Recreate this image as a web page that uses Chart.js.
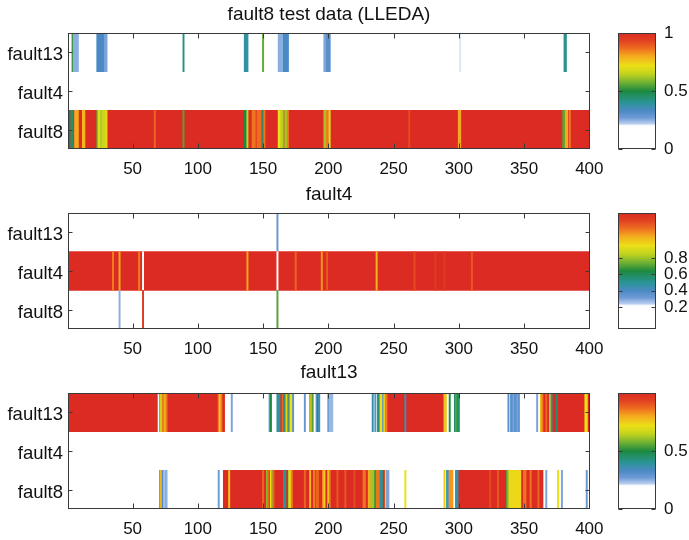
<!DOCTYPE html>
<html>
<head>
<meta charset="utf-8">
<title>fault8 test data (LLEDA)</title>
<script src="https://cdn.jsdelivr.net/npm/chart.js@4.4.0/dist/chart.umd.min.js"></script>
<style>
  body { margin: 0; background: #fff; overflow: hidden; }
  #page { position: relative; width: 689px; height: 540px; }
  canvas { position: absolute; }
</style>
</head>
<body>
<div id="page">
  <canvas id="heat1" width="620" height="180" style="left:0;top:0"></canvas>
  <canvas id="bar1" width="89" height="180" style="left:600px;top:0"></canvas>
  <canvas id="heat2" width="620" height="180" style="left:0;top:180px"></canvas>
  <canvas id="bar2" width="89" height="180" style="left:600px;top:180px"></canvas>
  <canvas id="heat3" width="620" height="180" style="left:0;top:360px"></canvas>
  <canvas id="bar3" width="89" height="180" style="left:600px;top:360px"></canvas>
</div>
<script>
// rows of every panel, top to bottom
const rowLabels = ["fault13", "fault4", "fault8"];
const xTickValues = [50, 100, 150, 200, 250, 300, 350, 400];

// each row: [firstSample, lastSample, level], later entries are painted over earlier ones
const p1Fault13 = [[4, 4, 0.52], [5, 8, 0.25], [23, 28, 0.33], [29, 30, 0.26], [89, 89, 0.42],
  [136, 138, 0.38], [150, 150, 0.56], [162, 165, 0.25], [166, 169, 0.33], [197, 198, 0.26],
  [199, 201, 0.31], [301, 301, 0.21], [381, 382, 0.41]];
const p1Fault4 = [];
const p1Fault8 = [[1, 400, 1], [3, 4, 0.45], [6, 8, 0.8], [12, 13, 0.78], [23, 23, 0.56], [24, 25, 0.7],
  [26, 26, 0.62], [27, 29, 0.66], [30, 30, 0.74], [67, 67, 0.88], [89, 89, 0.55], [136, 137, 0.5],
  [138, 138, 0.66], [142, 144, 0.86], [145, 145, 0.93], [146, 148, 0.87], [150, 150, 0.45],
  [151, 151, 0.86], [162, 163, 0.72], [164, 165, 0.64], [167, 168, 0.62], [169, 169, 0.85],
  [197, 198, 0.62], [199, 200, 0.85], [201, 201, 0.7], [262, 262, 0.92], [300, 301, 0.8],
  [380, 381, 0.55], [382, 383, 0.8], [385, 385, 0.85]];

const p2Fault13 = [[161, 161, 0.28]];
const p2Fault4 = [[1, 400, 1], [35, 35, 0.85], [40, 40, 0.8], [55, 55, 0.85], [58, 58, 0.1],
  [138, 138, 0.8], [161, 161, 0.1], [175, 175, 0.88], [195, 195, 0.82], [199, 199, 0.9],
  [237, 237, 0.78], [266, 266, 0.92], [282, 282, 0.95], [289, 289, 0.95], [310, 310, 0.9]];
const p2Fault8 = [[40, 40, 0.25], [58, 58, 0.95], [161, 161, 0.55]];

const p3Fault13 = [[1, 120, 1], [70, 70, 0.1], [71, 71, 0.6], [72, 72, 0.72], [73, 74, 0.85],
  [75, 75, 0.76], [76, 76, 0.86], [116, 116, 0.85], [117, 117, 0.72], [118, 118, 0.85],
  [126, 126, 0.26], [155, 155, 0.3], [156, 156, 0.5], [161, 161, 0.4], [162, 163, 0.38],
  [164, 164, 1], [165, 165, 0.88], [166, 166, 0.52], [167, 167, 0.4], [168, 168, 0.72],
  [169, 169, 0.85], [170, 170, 0.42], [171, 172, 0.72], [173, 173, 0.3], [182, 182, 0.28],
  [186, 186, 0.6], [187, 187, 0.78], [188, 188, 0.55], [191, 191, 0.3], [192, 192, 0.45],
  [193, 193, 0.35], [200, 200, 0.3], [201, 203, 0.24], [234, 234, 0.38], [236, 236, 0.3],
  [238, 238, 0.4], [239, 239, 0.45], [240, 241, 0.72], [242, 242, 0.3], [243, 243, 0.72],
  [244, 245, 0.85], [246, 288, 1], [259, 259, 0.36], [289, 290, 0.76], [293, 293, 0.5],
  [297, 297, 0.45], [298, 298, 0.56], [299, 300, 0.45], [338, 338, 0.3], [340, 341, 0.3],
  [342, 342, 0.26], [343, 344, 0.3], [345, 345, 0.26], [346, 346, 0.3], [360, 360, 0.26],
  [363, 400, 1], [363, 363, 0.75], [364, 364, 0.85], [367, 367, 0.88], [370, 370, 0.72],
  [371, 371, 0.4], [375, 375, 0.45], [397, 398, 0.72]];
const p3Fault4 = [];
const p3Fault8 = [[71, 71, 0.85], [72, 72, 0.74], [73, 73, 0.32], [75, 76, 0.25], [116, 116, 0.27],
  [120, 244, 1], [124, 124, 0.75], [150, 150, 0.88], [153, 153, 0.6], [154, 154, 0.88],
  [156, 156, 0.72], [157, 157, 0.6], [158, 158, 0.88], [166, 166, 0.38], [167, 167, 0.4],
  [169, 169, 0.5], [170, 171, 0.73], [172, 172, 0.85], [182, 182, 0.88], [186, 186, 0.78],
  [189, 189, 0.85], [191, 192, 0.88], [196, 196, 0.82], [197, 197, 0.75], [200, 200, 0.72],
  [201, 201, 0.85], [207, 207, 0.9], [213, 213, 0.9], [220, 220, 0.92], [227, 228, 0.86],
  [231, 232, 0.8], [233, 235, 0.62], [236, 236, 0.5], [237, 239, 0.86], [240, 241, 0.4],
  [244, 244, 0.72], [245, 246, 0.26], [259, 259, 0.72], [289, 289, 0.75], [291, 291, 0.4],
  [292, 292, 0.3], [293, 295, 0.82], [298, 364, 1], [298, 299, 0.38], [324, 324, 0.92],
  [330, 330, 0.9], [337, 337, 0.55], [338, 338, 0.62], [339, 347, 0.73], [350, 351, 0.86],
  [355, 355, 0.86], [361, 361, 0.88], [367, 367, 0.26], [376, 376, 0.72], [379, 379, 0.26],
  [398, 398, 0.28]];

// colour bar tick labels and axis ranges
const cbTicks1 = [0, 0.5, 1];
const cbTicks2 = [0.2, 0.4, 0.6, 0.8];
const cbTicks3 = [0, 0.5];
const cbRange1 = [0, 1];
const cbRange2 = [-0.07, 1.35];
const cbRange3 = [0, 1];

// jet-like colormap with the low end cut to white
const cmapLevels = [0, 0.2, 0.22, 0.27, 0.33, 0.4, 0.5, 0.58, 0.65, 0.72, 0.8, 0.87, 0.94, 1];
const cmapColors = ["#ffffff", "#ffffff", "#b4ccee", "#6e9ad6", "#4a8ac4", "#2b9497", "#1d8a3f",
  "#78b431", "#c4d41e", "#ebdf17", "#f4aa1f", "#ee6b20", "#e03e22", "#dc2b22"];

const FONT = "'Liberation Sans', Arial, sans-serif";

const hexRgb = (h) => [1, 3, 5].map((i) => parseInt(h.slice(i, i + 2), 16));

const levelColor = (v) => {
  if (v <= cmapLevels[0]) return cmapColors[0];
  for (let i = 1; i < cmapLevels.length; i++) {
    if (v <= cmapLevels[i]) {
      const t = (v - cmapLevels[i - 1]) / (cmapLevels[i] - cmapLevels[i - 1]);
      const a = hexRgb(cmapColors[i - 1]);
      const b = hexRgb(cmapColors[i]);
      const c = a.map((x, k) => Math.round(x + (b[k] - x) * t));
      return `rgb(${c[0]}, ${c[1]}, ${c[2]})`;
    }
  }
  return cmapColors[cmapColors.length - 1];
};

// box round the plot area with small inward ticks, like the original figure
const framePlugin = {
  id: "frame",
  afterDraw(chart) {
    const { ctx, chartArea: a } = chart;
    const l = Math.round(a.left) + 0.5;
    const r = Math.round(a.right) - 0.5;
    const t = Math.round(a.top) + 0.5;
    const b = Math.round(a.bottom) - 0.5;
    ctx.save();
    ctx.strokeStyle = "#3a3a3a";
    ctx.lineWidth = 1;
    ctx.beginPath();
    const xs = chart.scales.x;
    if (xs.options.display !== false) {
      xs.ticks.forEach((tk) => {
        const px = Math.round(xs.getPixelForValue(tk.value)) + 0.5;
        ctx.moveTo(px, b); ctx.lineTo(px, b - 5);
        ctx.moveTo(px, t); ctx.lineTo(px, t + 5);
      });
    }
    const ys = chart.scales.y;
    ys.ticks.forEach((tk, i) => {
      const py = Math.round(ys.getPixelForTick(i)) + 0.5;
      ctx.moveTo(l, py); ctx.lineTo(l + 4, py);
      ctx.moveTo(r, py); ctx.lineTo(r - 4, py);
    });
    ctx.stroke();
    ctx.strokeRect(l, t, r - l, b - t);
    ctx.restore();
  },
};

const gradientPlugin = {
  id: "gradient",
  beforeDatasetsDraw(chart) {
    const { ctx, chartArea: a } = chart;
    const h = a.bottom - a.top;
    for (let y = Math.floor(a.top); y < a.bottom; y++) {
      ctx.fillStyle = levelColor((a.bottom - y - 0.5) / h);
      ctx.fillRect(a.left, y, a.right - a.left, 1);
    }
  },
};

const drawHeatmap = (id, title, rows, titlePad) => {
  const points = [];
  const colors = [];
  rows.forEach((segs, r) => {
    segs.forEach(([first, last, level]) => {
      points.push({ x: [first - 0.5, last + 0.5], y: rowLabels[r] });
      colors.push(levelColor(level));
    });
  });

  const ctx = document.getElementById(id).getContext("2d");
  new Chart(ctx, {
    type: "bar",
    data: {
      labels: rowLabels,
      datasets: [
        {
          data: points,
          backgroundColor: colors,
          borderWidth: 0,
          barPercentage: 1,
          categoryPercentage: 1,
        },
      ],
    },
    options: {
      indexAxis: "y",
      responsive: false,
      animation: false,
      events: [],
      layout: { padding: { left: 0, right: 30, top: 0, bottom: 0 } },
      plugins: {
        legend: { display: false },
        tooltip: { enabled: false },
        title: {
          display: true,
          text: title,
          fullSize: false,
          color: "#111",
          font: { family: FONT, size: 19, weight: "normal" },
          padding: titlePad,
        },
      },
      scales: {
        x: {
          type: "linear",
          min: 0.5,
          max: 400.5,
          grid: { display: false, drawTicks: false },
          border: { display: false },
          ticks: { color: "#111", font: { family: FONT, size: 17 }, padding: 10, maxRotation: 0, autoSkip: false },
          afterBuildTicks: (s) => {
            s.ticks = xTickValues.map((v) => ({ value: v }));
          },
          afterFit: (s) => {
            s.height = 31;
            s.paddingLeft = 0;
            s.paddingRight = 0;
          },
        },
        y: {
          type: "category",
          grid: { display: false, drawTicks: false },
          border: { display: false },
          ticks: { color: "#111", font: { family: FONT, size: 18.5 }, padding: 5, labelOffset: 3 },
          afterFit: (s) => {
            s.width = 68;
            s.paddingTop = 0;
            s.paddingBottom = 0;
          },
        },
      },
    },
    plugins: [framePlugin],
  });
};

const drawColorbar = (id, tickValues, range) => {
  const ctx = document.getElementById(id).getContext("2d");
  new Chart(ctx, {
    type: "scatter",
    data: { datasets: [] },
    options: {
      responsive: false,
      animation: false,
      events: [],
      layout: { padding: { left: 18, right: 0, top: 33, bottom: 31 } },
      plugins: { legend: { display: false }, tooltip: { enabled: false } },
      scales: {
        x: { display: false, min: 0, max: 1 },
        y: {
          position: "right",
          min: range[0],
          max: range[1],
          grid: { display: false, drawTicks: false },
          border: { display: false },
          ticks: {
            color: "#111",
            font: { family: FONT, size: 17 },
            padding: 8,
            callback: (v) => String(v),
          },
          afterBuildTicks: (s) => {
            s.ticks = tickValues.map((v) => ({ value: v }));
          },
          afterFit: (s) => {
            s.width = 33;
          },
        },
      },
    },
    plugins: [gradientPlugin, framePlugin],
  });
};

drawHeatmap("heat1", "fault8 test data (LLEDA)", [p1Fault13, p1Fault4, p1Fault8], { top: 3.6, bottom: 6.6 });
drawHeatmap("heat2", "fault4", [p2Fault13, p2Fault4, p2Fault8], { top: 3.6, bottom: 6.6 });
drawHeatmap("heat3", "fault13", [p3Fault13, p3Fault4, p3Fault8], { top: 1.6, bottom: 8.6 });
drawColorbar("bar1", cbTicks1, cbRange1);
drawColorbar("bar2", cbTicks2, cbRange2);
drawColorbar("bar3", cbTicks3, cbRange3);
</script>
</body>
</html>
